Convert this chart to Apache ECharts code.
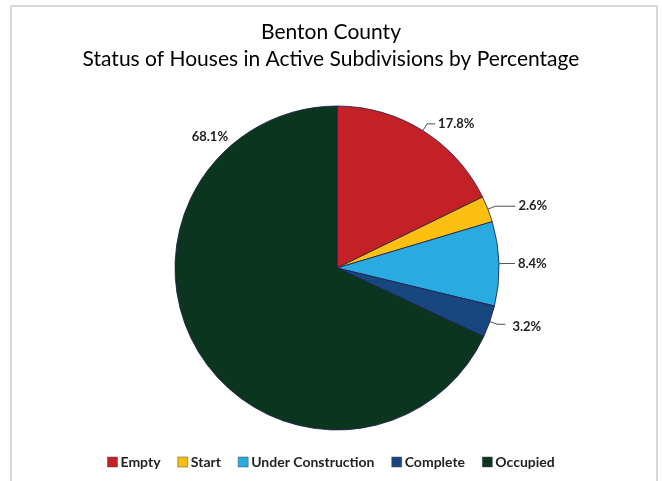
<!DOCTYPE html>
<html>
<head>
<meta charset="utf-8">
<script src="https://cdn.jsdelivr.net/npm/echarts@6/dist/echarts.min.js"></script>
<style>
html,body{margin:0;padding:0;background:#fff;}
#chart{width:662px;height:481px;}
</style>
</head>
<body>
<div id="chart"></div>
<script>
var titleLines = ['Benton County', 'Status of Houses in Active Subdivisions by Percentage'];
var categories = ['Empty', 'Start', 'Under Construction', 'Complete', 'Occupied'];
var values = [17.8, 2.6, 8.4, 3.2, 68.1];
var colors = ['#C42127', '#FDC010', '#29ABE2', '#17477E', '#0B351E'];

var CX = 337, CY = 268, R = 162;
var chart = echarts.init(document.getElementById('chart'), null, {renderer: 'canvas'});
var data = categories.map(function (c, i) {
  var d = {name: c, value: values[i], itemStyle: {color: colors[i]}};
  if (c === 'Start') d.labelLine = {length2: 20};
  if (c === 'Occupied') d.labelLine = {show: false};
  return d;
});
chart.setOption({
  animation: false,
  backgroundColor: '#fff',
  graphic: [{
    type: 'rect',
    shape: {x: 11, y: 6, width: 646, height: 490},
    style: {fill: 'none', stroke: '#d9d9d9', lineWidth: 2}
  }],
  title: {
    text: titleLines.join('\n'),
    left: 'center',
    top: 14,
    textStyle: {
      fontFamily: 'Lato',
      fontWeight: 'normal',
      fontSize: 21,
      color: '#000',
      lineHeight: 27
    }
  },
  legend: {
    bottom: 7,
    left: 'center',
    icon: 'rect',
    itemWidth: 10,
    itemHeight: 10,
    itemGap: 17,
    data: categories,
    textStyle: {fontFamily: 'Lato', fontWeight: 'bold', fontSize: 14, color: '#222', padding: [0, 0, 0, -2]},
    itemStyle: {borderColor: '#444', borderWidth: 0.5}
  },
  series: [{
    type: 'pie',
    center: [CX, CY],
    radius: R,
    startAngle: 90,
    clockwise: true,
    data: data,
    itemStyle: {borderColor: '#1c1c4a', borderWidth: 0.8},
    label: {
      show: true,
      position: 'outside',
      formatter: function (p) { return p.value.toFixed(1) + '%'; },
      fontFamily: 'Lato',
      fontWeight: 'bold',
      fontSize: 13,
      color: '#222',
      distanceToLabelLine: 3
    },
    labelLine: {
      show: true,
      length: 8,
      length2: 8,
      lineStyle: {color: '#222', width: 0.8}
    },
    labelLayout: function (p) {
      if (p.dataIndex === 4) {
        // Excel-style placement: upper-left of the pie, no leader line
        var ang = -44 * Math.PI / 180, dist = R + 21;
        return {
          x: CX + dist * Math.sin(ang),
          y: CY - dist * Math.cos(ang),
          align: 'center',
          verticalAlign: 'middle'
        };
      }
      if (p.dataIndex === 3) {
        return {dx: 4, dy: 3};
      }
      return {};
    },
    emphasis: {disabled: true}
  }]
});
</script>
</body>
</html>
